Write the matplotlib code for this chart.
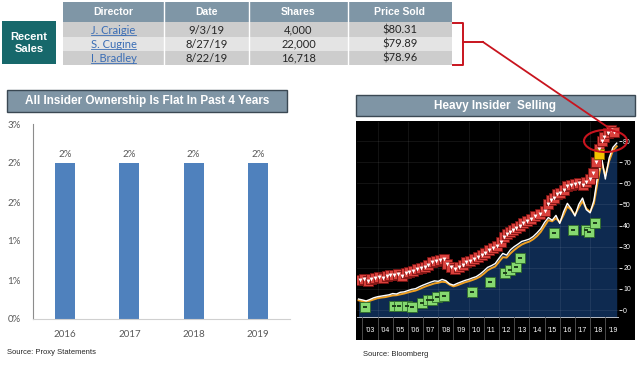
import numpy as np
import matplotlib
matplotlib.use('Agg')
import matplotlib.pyplot as plt
from matplotlib import font_manager
from matplotlib.patches import Rectangle, Ellipse


def pick(*names):
    for n in names:
        try:
            font_manager.findfont(n, fallback_to_default=False)
            return n
        except ValueError:
            pass
    return 'DejaVu Sans'


ARIAL = pick('Liberation Sans', 'DejaVu Sans')
NARROW = pick('Liberation Sans Narrow', 'Liberation Sans')
BODY = pick('Lato', 'Liberation Sans')

# --- recent sales table ---
table_cols = ['Director', 'Date', 'Shares', 'Price Sold']
directors = ['J. Craigie', 'S. Cugine', 'I. Bradley']
sale_dates = ['9/3/19', '8/27/19', '8/22/19']
sale_shares = ['4,000', '22,000', '16,718']
sale_prices = ['$80.31', '$79.89', '$78.96']

# --- insider ownership bar chart ---
years = ['2016', '2017', '2018', '2019']
ownership = [2.4, 2.4, 2.4, 2.4]
own_ticks = [0, 0.6, 1.2, 1.8, 2.4, 3.0]

# --- bloomberg chart: quarterly price (white) and orange line ---
price_t = np.arange(2002.75, 2019.76, 0.25)
price = [5.2, 4.8, 4.3, 5.0, 5.8, 6.3, 6.6, 6.9, 7.2, 7.8, 7.6, 8.4, 8.6,
         9.2, 9.8, 10.1, 11.0, 11.8, 12.5, 13.2, 13.8, 13.6, 14.5, 13.9,
         12.4, 11.8, 12.6, 13.3, 14.0, 14.5, 15.2, 15.8, 17.0, 18.5, 20.2,
         21.0, 22.0, 24.5, 26.8, 26.0, 28.5, 30.0, 31.2, 32.5, 33.0, 33.6,
         34.8, 36.5, 38.5, 41.5, 43.8, 42.5, 44.8, 41.0, 46.5, 50.5, 48.0,
         44.5, 50.0, 53.0, 47.5, 46.0, 52.0, 64.0, 72.5, 62.0, 72.0, 77.0,
         79.0]
orange = [4.6, 4.2, 3.9, 4.4, 5.0, 5.6, 5.9, 6.1, 6.5, 6.9, 7.0, 7.4, 7.8,
          8.3, 8.8, 9.2, 9.9, 10.7, 11.4, 12.0, 12.6, 12.9, 13.4, 13.2,
          12.0, 11.2, 11.7, 12.4, 13.1, 13.6, 14.2, 14.9, 15.8, 17.2, 18.8,
          19.8, 20.6, 22.8, 25.0, 24.8, 26.8, 28.4, 29.8, 31.0, 31.8, 32.4,
          33.5, 35.0, 37.0, 39.8, 42.5, 42.0, 43.5, 41.5, 45.0, 49.0, 47.5,
          45.0, 48.5, 51.5, 48.0, 46.5, 50.5, 61.0, 70.0, 63.5, 70.5, 75.5,
          77.5]

sell_t = [2002.85, 2003.1, 2003.35, 2003.6, 2003.85,
          2004.1, 2004.35, 2004.6, 2004.85,
          2005.1, 2005.35, 2005.6, 2005.85,
          2006.1, 2006.35, 2006.6, 2006.85,
          2007.1, 2007.35, 2007.6, 2007.85,
          2008.1, 2008.35, 2008.6, 2008.85,
          2009.1, 2009.35, 2009.6, 2009.85,
          2010.1, 2010.35, 2010.6, 2010.85,
          2011.1, 2011.35, 2011.6, 2011.85,
          2012.1, 2012.3, 2012.5, 2012.7, 2012.9,
          2013.1, 2013.35, 2013.6, 2013.85,
          2014.1, 2014.4, 2014.7,
          2015.0, 2015.2, 2015.4, 2015.6, 2015.8,
          2016.0, 2016.25, 2016.5, 2016.75,
          2017.0, 2017.25, 2017.5, 2017.75,
          2018.0, 2018.2, 2018.4, 2018.6, 2018.75, 2018.9,
          2019.2, 2019.4, 2019.6]
sell_v = [14.0, 14.5, 13.8, 14.8, 15.0,
          15.5, 15.2, 16.0, 16.5,
          16.8, 17.0, 16.2, 17.5,
          17.8, 18.5, 19.5, 20.0,
          20.5, 21.5, 22.5, 23.0,
          23.5, 24.0, 22.0, 20.5,
          19.5, 20.5, 21.5, 22.5,
          23.0, 24.0, 25.0, 26.0,
          27.0, 28.5, 29.5, 30.5,
          32.0, 34.5, 36.0, 37.0, 38.0,
          39.0, 40.0, 41.0, 42.0,
          43.0, 44.5, 45.5,
          47.0, 50.0, 52.0, 53.0, 55.0,
          55.5, 57.0, 58.5, 59.0,
          59.5, 60.0, 59.0, 60.5,
          62.0, 65.0, 70.0, 76.0, 80.0, 82.0,
          84.0, 85.0, 84.5]
buy_t = [2003.2, 2005.1, 2005.4, 2005.95, 2006.3, 2006.9, 2007.3, 2007.6,
         2007.95, 2008.4, 2010.2, 2011.4, 2012.4, 2012.7, 2013.1, 2013.4,
         2015.6, 2016.9, 2017.7, 2017.9, 2018.3]
buy_v = [1.2, 1.9, 1.9, 1.7, 1.6, 3.5, 4.7, 4.7, 6.0, 6.6, 8.7, 13.4, 17.4,
         19.0, 20.5, 24.5, 36.3, 37.9, 37.9, 37.0, 41.0]
other_t = [2018.6]
other_v = [74.0]

bb_years = list(range(2003, 2020))

W, H = 640, 365


def box(x0, y0, x1, y1):
    return [x0 / W, 1 - y1 / H, (x1 - x0) / W, (y1 - y0) / H]


fig = plt.figure(figsize=(6.4, 3.65), dpi=100)
fig.patch.set_facecolor('white')

# black panel behind the bloomberg chart
bg = fig.add_axes([0, 0, 1, 1], zorder=-5)
bg.set_xlim(0, W)
bg.set_ylim(H, 0)
bg.axis('off')
bg.add_patch(Rectangle((356, 121), 279, 219, fc='black', ec='none'))

# ---------------- bar chart ----------------
ax = fig.add_axes(box(33, 124, 290, 319))
x = np.arange(len(years))
ax.bar(x, ownership, width=0.31, color='#4f81bd', zorder=2)
for xi, v in zip(x, ownership):
    ax.text(xi, v + 0.06, '%d%%' % round(v), ha='center', va='bottom',
            fontsize=7, color='#595959', family=BODY)
ax.set_xlim(-0.5, 3.5)
ax.set_ylim(0, 3.0)
ax.set_xticks(x)
ax.set_xticklabels(years)
ax.set_yticks(own_ticks)
ax.set_yticklabels(['%d%%' % round(v) for v in own_ticks])
ax.tick_params(length=0, labelsize=7, labelcolor='#595959')
ax.tick_params(axis='x', pad=8)
ax.tick_params(axis='y', pad=9)
for lab in ax.get_xticklabels() + ax.get_yticklabels():
    lab.set_family(BODY)
for s in ['top', 'right']:
    ax.spines[s].set_visible(False)
ax.spines['left'].set_color('#8c8c8c')
ax.spines['bottom'].set_color('#d0d0d0')
ax.spines['left'].set_linewidth(0.8)
ax.spines['bottom'].set_linewidth(0.8)

# ---------------- bloomberg chart ----------------
x0b, x1b = 2002.65, 2019.9
bx = fig.add_axes(box(357, 122, 619, 317))
bx.set_facecolor('black')
bx.fill_between(price_t, price, -10, color='#0e2a50', lw=0, zorder=1)
for yv in range(0, 90, 10):
    bx.axhline(yv, color='white', alpha=0.09, lw=0.6, zorder=2)
for xv in range(2004, 2020, 2):
    bx.axvline(xv, color='white', alpha=0.09, lw=0.6, zorder=2)
bx.plot(price_t, orange, color='#f0a020', lw=1.4, zorder=3)
bx.plot(price_t, price, color='white', lw=1.0, zorder=4)
bx.plot(sell_t, sell_v, ls='none', marker='s', ms=6.6, mfc='#d9403c',
        mec='#7a1212', mew=0.6, zorder=5)
bx.plot(sell_t, sell_v, ls='none', marker='v', ms=2.8, mfc='white',
        mec='none', zorder=6)
bx.plot(buy_t, buy_v, ls='none', marker='s', ms=7, mfc='#86d870',
        mec='#2f6b2a', mew=0.6, zorder=5)
bx.plot(buy_t, buy_v, ls='none', marker='_', ms=3.5, mec='#1d3d1a',
        mew=1.4, zorder=6)
bx.plot(other_t, other_v, ls='none', marker='s', ms=6.6, mfc='#f2c400',
        mec='#8a6a00', mew=0.6, zorder=5)
bx.set_xlim(x0b, x1b)
bx.set_ylim(-3.3, 89)
bx.set_xticks([])
bx.yaxis.tick_right()
bx.set_yticks(range(0, 90, 10))
bx.tick_params(axis='y', colors='white', labelsize=5, length=2, width=0.6,
               pad=1)
for lab in bx.get_yticklabels():
    lab.set_family(NARROW)
for s in bx.spines.values():
    s.set_visible(False)

# year band under the bloomberg chart
yb = fig.add_axes(box(357, 317, 619, 340))
yb.set_facecolor('black')
yb.set_xlim(x0b, x1b)
yb.set_ylim(0, 1)
yb.axhline(1, color='#d8dee8', lw=1.2)
for yr in bb_years:
    yb.axvline(yr, color='#555555', lw=0.6)
    yb.text(yr + 0.5, 0.42, "\u2019%02d" % (yr % 100), ha='center',
            va='center', fontsize=5, color='white', family=NARROW)
yb.set_xticks([])
yb.set_yticks([])
for s in yb.spines.values():
    s.set_visible(False)

# ---------------- overlay: table, titles, callouts ----------------
ov = fig.add_axes([0, 0, 1, 1], zorder=10)
ov.set_xlim(0, W)
ov.set_ylim(H, 0)
ov.axis('off')

# Recent Sales box
ov.add_patch(Rectangle((2, 21), 54, 43, fc='#17686b', ec='none'))
ov.text(29, 42.5, 'Recent\nSales', ha='center', va='center', color='white',
        fontsize=8, fontweight='bold', family=ARIAL, linespacing=1.25)

col_x = [63, 164, 249, 348, 452]
row_y = [2, 22, 37, 51, 65]
ov.add_patch(Rectangle((col_x[0], row_y[0]), col_x[-1] - col_x[0],
                       row_y[1] - row_y[0], fc='#7f96a6', ec='none'))
row_colors = ['#cdcdcd', '#e4e4e4', '#cdcdcd']
for i, c in enumerate(row_colors):
    ov.add_patch(Rectangle((col_x[0], row_y[i + 1]), col_x[-1] - col_x[0],
                           row_y[i + 2] - row_y[i + 1], fc=c, ec='none'))
for cx in col_x[1:-1]:
    ov.plot([cx, cx], [row_y[0], row_y[-1]], color='white', lw=1)
for j, name in enumerate(table_cols):
    ov.text((col_x[j] + col_x[j + 1]) / 2, 12.3, name, ha='center',
            va='center', color='white', fontsize=7.5, fontweight='bold',
            family=ARIAL)

rows = list(zip(directors, sale_dates, sale_shares, sale_prices))
row_cy = [30.2, 44, 58]
fig.canvas.draw()
inv = ov.transData.inverted()
for i, r in enumerate(rows):
    for j, val in enumerate(r):
        cx = (col_x[j] + col_x[j + 1]) / 2
        t = ov.text(cx, row_cy[i], val, ha='center', va='center',
                    fontsize=8, family=BODY,
                    color='#3a6db5' if j == 0 else '#262626')
        if j == 0:
            ext = t.get_window_extent(renderer=fig.canvas.get_renderer())
            (ax0, _), (ax1, _) = inv.transform([[ext.x0, ext.y0],
                                                [ext.x1, ext.y1]])
            ov.plot([ax0, ax1], [row_cy[i] + 5.2, row_cy[i] + 5.2],
                    color='#3a6db5', lw=0.6)

# red bracket, arrow line and ellipse
red = '#c8141e'
ov.plot([453, 463, 463, 453], [23, 23, 65, 65], color=red, lw=1.4,
        solid_joinstyle='round')
ov.plot([463, 483], [42, 42], color=red, lw=1.4)
ov.plot([483, 612], [42, 130], color=red, lw=1.3)
ov.add_patch(Ellipse((605.5, 141), 43, 22, fc='none', ec=red, lw=1.5))

# chart titles
ov.add_patch(Rectangle((7, 90), 280, 22, fc='#7f95a5', ec='#3a4853', lw=1))
ov.text(147, 101, 'All Insider Ownership Is Flat In Past 4 Years',
        ha='center', va='center', color='white', fontsize=8.5,
        fontweight='bold', family=NARROW)
ov.add_patch(Rectangle((356, 95), 279, 21, fc='#7f95a5', ec='#3a4853', lw=1))
ov.text(495, 105.5, 'Heavy Insider  Selling', ha='center', va='center',
        color='white', fontsize=8.5, fontweight='bold', family=NARROW)

# sources
ov.text(7, 352, 'Source: Proxy Statements', ha='left', va='center',
        fontsize=5.5, color='#262626', family=NARROW)
ov.text(363, 355, 'Source: Bloomberg', ha='left', va='center',
        fontsize=5.5, color='#262626', family=NARROW)

fig.savefig('out.png', dpi=100, facecolor='white')
